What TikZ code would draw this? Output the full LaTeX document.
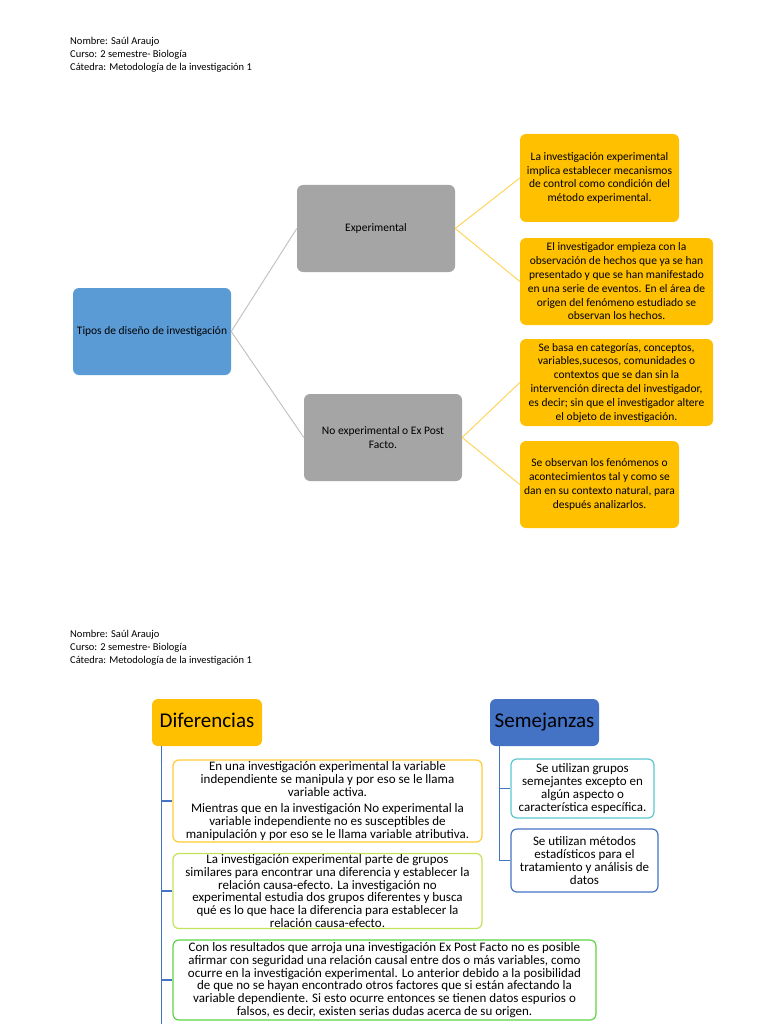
\documentclass[tikz,border=0pt]{standalone}
\usepackage{fontspec}
\setmainfont{Carlito}
\usetikzlibrary{positioning}
\definecolor{azul}{HTML}{5B9BD5}
\definecolor{azuloscuro}{HTML}{4472C4}
\definecolor{gris}{HTML}{A5A5A5}
\definecolor{naranja}{HTML}{FFC000}
\definecolor{lineagris}{HTML}{BFBFBF}
\definecolor{lineanaranja}{HTML}{FFD24D}
\definecolor{turquesa}{HTML}{5BC8D0}
\definecolor{verdeclaro}{HTML}{C5E35A}
\definecolor{verde}{HTML}{5DD53F}
\tikzset{
  caja/.style={rounded corners=6pt, align=center, inner sep=1pt},
  arriba/.style={caja, font=\fontsize{11.5}{13.8}\selectfont},
  abajo/.style={caja, draw, fill=white, line width=1.2pt, font=\fontsize{13}{12.8}\selectfont},
  titulo/.style={caja, font=\fontsize{21}{24}\selectfont, text height=15pt, text depth=5pt, minimum width=110pt, minimum height=47pt},
  encabezado/.style={anchor=north west, inner sep=0pt, align=left, font=\fontsize{10.5}{13}\selectfont},
  rama/.style={azuloscuro, line width=1.2pt}
}
\begin{document}
\begin{tikzpicture}[x=1pt,y=-1pt]
  \useasboundingbox[fill=white] (0,0) rectangle (768,1024);
  \node[encabezado] (enc1) at (70,37) {Nombre: Saúl Araujo\\Curso: 2 semestre- Biología\\Cátedra: Metodología de la investigación 1};
  \node[arriba, fill=azul, minimum width=158pt, minimum height=87pt] (tipos) at (152,331.5) {Tipos de diseño de investigación};
  \node[arriba, fill=gris, minimum width=158pt, minimum height=87pt] (exp) at (376,228.5) {Experimental};
  \node[arriba, fill=gris, minimum width=158pt, minimum height=87pt] (noexp) at (383,437.5) {No experimental o Ex Post\\Facto.};
  \node[arriba, fill=naranja, minimum width=159pt, minimum height=88pt] (exp1) at (599.5,178) {La investigación experimental\\implica establecer mecanismos\\de control como condición del\\método experimental.};
  \node[arriba, fill=naranja, minimum width=193pt, minimum height=87pt] (exp2) at (616.5,281.5) {El investigador empieza con la\\observación de hechos que ya se han\\presentado y que se han manifestado\\en una serie de eventos. En el área de\\origen del fenómeno estudiado se\\observan los hechos.};
  \node[arriba, fill=naranja, minimum width=193pt, minimum height=87pt] (noexp1) at (616.5,382.5) {Se basa en categorías, conceptos,\\variables,sucesos, comunidades o\\contextos que se dan sin la\\intervención directa del investigador,\\es decir; sin que el investigador altere\\el objeto de investigación.};
  \node[arriba, fill=naranja, minimum width=159pt, minimum height=87pt] (noexp2) at (599.5,484.5) {Se observan los fenómenos o\\acontecimientos tal y como se\\dan en su contexto natural, para\\después analizarlos.};
  \draw[lineagris, line width=0.9pt] (tipos.east) -- (exp.west);
  \draw[lineagris, line width=0.9pt] (tipos.east) -- (noexp.west);
  \draw[lineanaranja, line width=0.9pt] (exp.east) -- (exp1.west);
  \draw[lineanaranja, line width=0.9pt] (exp.east) -- (exp2.west);
  \draw[lineanaranja, line width=0.9pt] (noexp.east) -- (noexp1.west);
  \draw[lineanaranja, line width=0.9pt] (noexp.east) -- (noexp2.west);
  \node[encabezado] (enc2) at (70,630) {Nombre: Saúl Araujo\\Curso: 2 semestre- Biología\\Cátedra: Metodología de la investigación 1};
  \node[titulo, fill=naranja] (dif) at (207,722.5) {Diferencias};
  \node[titulo, fill=azuloscuro, minimum width=109pt] (sem) at (544.5,722.5) {Semejanzas};
  \node[abajo, draw=naranja!80, minimum width=309pt, minimum height=82pt] (dif1) at (327.5,801) {En una investigación experimental la variable\\independiente se manipula y por eso se le llama\\variable activa.\\[4pt]Mientras que en la investigación No experimental la\\variable independiente no es susceptibles de\\manipulación y por eso se le llama variable atributiva.};
  \node[abajo, draw=verdeclaro, minimum width=309pt, minimum height=74pt] (dif2) at (327.5,891) {La investigación experimental parte de grupos\\similares para encontrar una diferencia y establecer la\\relación causa-efecto. La investigación no\\experimental estudia dos grupos diferentes y busca\\qué es lo que hace la diferencia para establecer la\\relación causa-efecto.};
  \node[abajo, draw=verde, minimum width=423pt, minimum height=80pt] (dif3) at (384.5,980) {Con los resultados que arroja una investigación Ex Post Facto no es posible\\afirmar con seguridad una relación causal entre dos o más variables, como\\ocurre en la investigación experimental. Lo anterior debido a la posibilidad\\de que no se hayan encontrado otros factores que si están afectando la\\variable dependiente. Si esto ocurre entonces se tienen datos espurios o\\falsos, es decir, existen serias dudas acerca de su origen.};
  \node[abajo, draw=turquesa, minimum width=143pt, minimum height=59pt] (sem1) at (582.5,788.5) {Se utilizan grupos\\semejantes excepto en\\algún aspecto o\\característica específica.};
  \node[abajo, draw=azuloscuro, minimum width=147pt, minimum height=63pt] (sem2) at (584.5,860.5) {Se utilizan métodos\\estadísticos para el\\tratamiento y análisis de\\datos};
  \coordinate (tronco) at ([xshift=10pt]dif.south west);
  \coordinate (tronco2) at ([xshift=10pt]sem.south west);
  \draw[rama] (tronco) -- (tronco |- 0,1024);
  \draw[rama] (tronco |- dif1.west) -- (dif1.west);
  \draw[rama] (tronco |- dif2.west) -- (dif2.west);
  \draw[rama] (tronco |- dif3.west) -- (dif3.west);
  \draw[rama] (tronco2) |- (sem2.west);
  \draw[rama] (tronco2 |- sem1.west) -- (sem1.west);
\end{tikzpicture}
\end{document}
